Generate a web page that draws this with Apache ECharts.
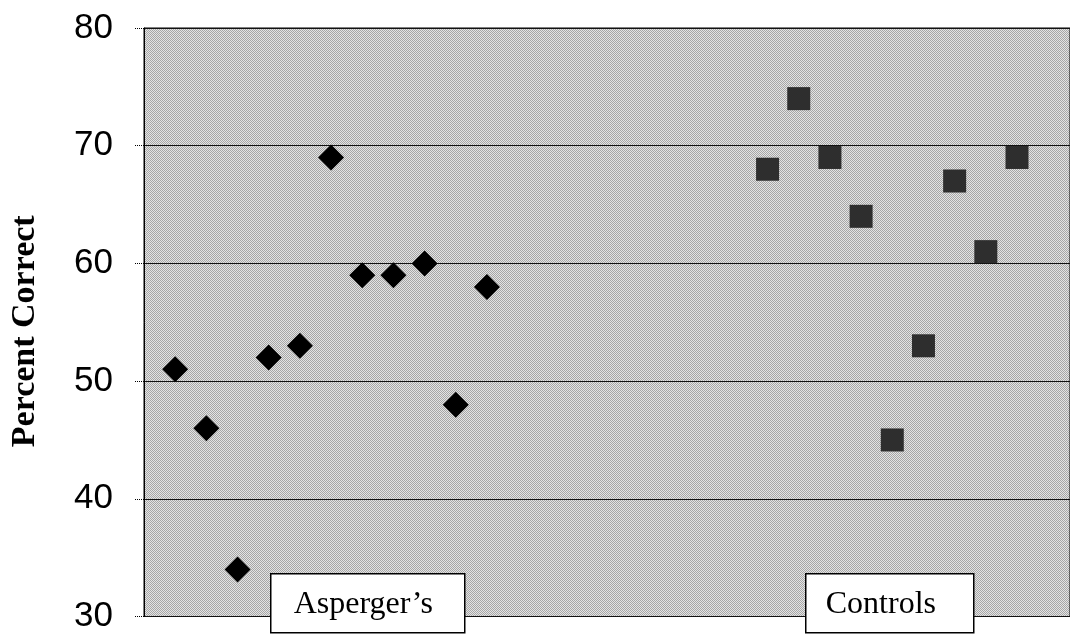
<!DOCTYPE html>
<html>
<head>
<meta charset="utf-8">
<script src="https://cdn.jsdelivr.net/npm/echarts@6/dist/echarts.min.js"></script>
<style>
html,body{margin:0;padding:0;background:#fff;}
#chart{width:1070px;height:634px;}
</style>
</head>
<body>
<div id="chart"></div>
<script>
// Data
const aspergerIndex = [1,2,3,4,5,6,7,8,9,10,11];
const aspergerValues = [51,46,34,52,53,69,59,59,60,48,58];
const controlIndex = [20,21,22,23,24,25,26,27,28];
const controlValues = [68,74,69,64,45,53,67,61,69];
const yTicks = [30,40,50,60,70,80];
const yTitle = 'Percent Correct';
const groupLabels = ['Asperger\u2019s','Controls'];

function pairs(xs, ys){ return xs.map((x,i)=>[x, ys[i]]); }

// halftone-like background texture (deterministic checker)
const tex = document.createElement('canvas');
tex.width = 2; tex.height = 2;
const tc = tex.getContext('2d');
tc.fillStyle = '#e4e4e4'; tc.fillRect(0,0,2,2);
tc.fillStyle = '#a6a6a6'; tc.fillRect(0,0,1,1); tc.fillRect(1,1,1,1);

const chart = echarts.init(document.getElementById('chart'), null, {renderer:'canvas'});
chart.setOption({
  backgroundColor:'#ffffff',
  animation:false,
  grid:{left:143, right:0, top:28, bottom:14, show:true,
        backgroundColor:{image:tex, repeat:'repeat'},
        borderColor:'#000', borderWidth:1},
  xAxis:{type:'value', min:0, max:29.7, show:false},
  yAxis:{type:'value', min:yTicks[0], max:yTicks[yTicks.length-1], interval:10,
    name:yTitle, nameLocation:'middle', nameGap:102,
    nameTextStyle:{fontFamily:'Liberation Serif', fontWeight:'bold', fontSize:34, color:'#000', padding:[0,18,0,0]},
    axisLine:{show:true, lineStyle:{color:'#000', width:1}},
    axisTick:{show:true, inside:false, length:10, lineStyle:{color:'#000', width:1, type:'dotted'}},
    axisLabel:{fontFamily:'Liberation Sans', fontSize:35, color:'#000', margin:31},
    splitLine:{show:true, lineStyle:{color:'#111', width:1}}
  },
  series:[
    {type:'scatter', name:groupLabels[0], data:pairs(aspergerIndex, aspergerValues),
     symbol:'diamond', symbolSize:[26,26], itemStyle:{color:'#000', opacity:1}},
    {type:'scatter', name:groupLabels[1], data:pairs(controlIndex, controlValues),
     symbol:'rect', symbolSize:[23,23], itemStyle:{color:'#2e2e2e', opacity:1}}
  ],
  graphic:[
    {type:'group', left:270, top:573, z:100, children:[
      {type:'rect', z:100, shape:{x:0,y:0,width:194,height:59}, style:{fill:'#fff', stroke:'#000', lineWidth:1.5}},
      {type:'text', z:101, x:23, y:31, style:{text:groupLabels[0], fontFamily:'Liberation Serif', fontSize:32, fill:'#000', align:'left', verticalAlign:'middle'}}
    ]},
    {type:'group', left:805, top:573, z:100, children:[
      {type:'rect', z:100, shape:{x:0,y:0,width:168,height:59}, style:{fill:'#fff', stroke:'#000', lineWidth:1.5}},
      {type:'text', z:101, x:20, y:31, style:{text:groupLabels[1], fontFamily:'Liberation Serif', fontSize:32, fill:'#000', align:'left', verticalAlign:'middle'}}
    ]}
  ]
});
</script>
</body>
</html>
